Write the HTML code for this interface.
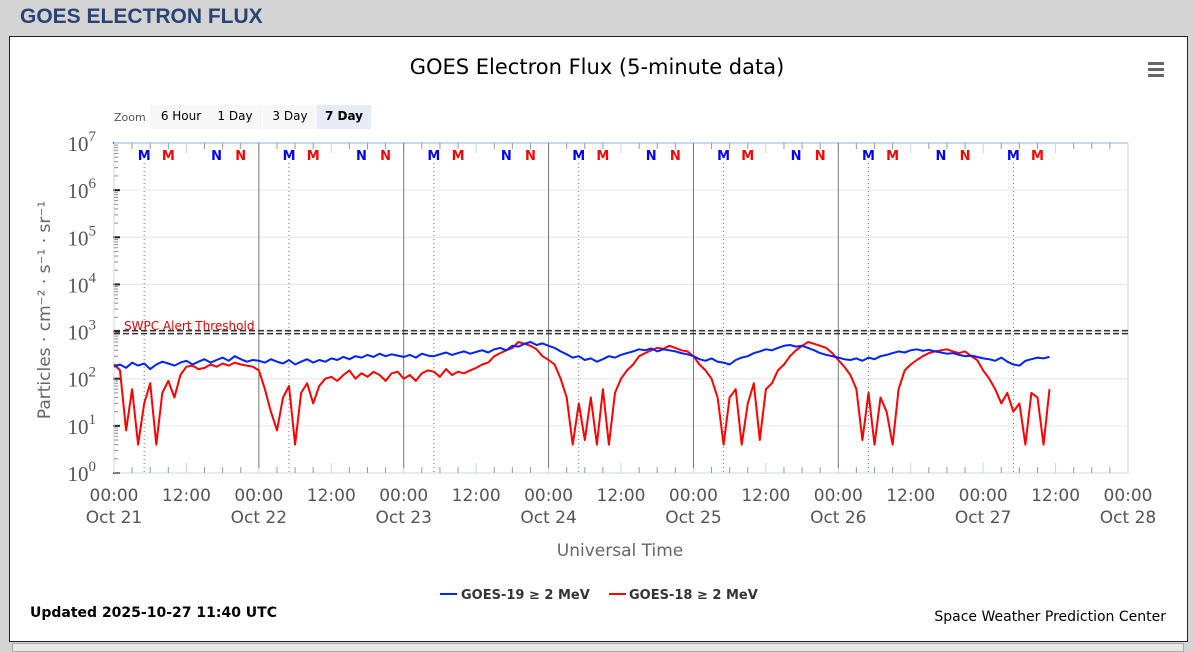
<!DOCTYPE html>
<html><head><meta charset="utf-8">
<style>
body{margin:0;width:1194px;height:650px;background:#d4d4d4;overflow:hidden;font-family:"DejaVu Sans",sans-serif;}
#hdr{position:absolute;left:20px;top:5px;font-size:21px;font-weight:bold;color:#2a4375;font-family:"Liberation Sans",sans-serif;}
#box{position:absolute;left:9px;top:36px;width:1177px;height:604px;background:#fff;border:1px solid #222;}
#strip{position:absolute;left:12px;top:643px;width:1170px;height:7px;background:#e8e8e8;border:1px solid #aaa;}
svg{position:absolute;left:0;top:0;font-family:"DejaVu Sans",sans-serif;}
</style></head><body>
<div id="hdr">GOES ELECTRON FLUX</div>
<div id="box"></div>
<div id="strip"></div>
<svg id="c" width="1194" height="650"></svg>
<script>
const days=["Oct 21","Oct 22","Oct 23","Oct 24","Oct 25","Oct 26","Oct 27","Oct 28"];
const yTicks=[0,1,2,3,4,5,6,7];
const threshold=1000;
const goes19=[180,200,170,220,190,210,160,200,230,210,190,220,240,200,230,260,220,250,280,240,300,260,230,250,
240,220,260,230,210,250,200,230,260,220,250,230,270,250,290,260,300,280,320,290,340,300,330,310,
290,320,280,340,310,300,330,360,320,350,380,340,370,400,360,420,450,400,500,480,550,600,520,560,
500,450,380,330,280,300,250,270,230,260,300,280,320,350,380,420,400,440,380,420,400,380,350,330,
300,260,240,270,230,220,200,250,280,300,350,380,420,400,450,500,520,480,500,450,400,350,320,300,
280,260,250,270,240,280,260,300,320,350,380,360,400,420,390,410,380,360,340,350,320,300,310,290,
270,260,240,280,230,200,190,240,260,280,270,290];
const goes18=[200,150,8,60,4,30,80,4,50,90,40,120,180,190,160,170,200,180,210,190,220,200,190,180,
150,60,20,8,40,70,4,50,80,30,70,100,110,90,120,150,100,130,110,140,120,90,130,140,
100,120,90,130,150,140,110,160,120,140,130,150,170,200,220,300,350,400,450,600,550,500,420,300,
250,200,100,40,4,30,5,40,4,60,4,50,100,150,200,300,350,400,450,430,500,450,400,380,
300,200,150,100,40,4,40,60,4,30,80,5,60,80,150,200,300,400,500,600,550,500,450,350,
250,180,120,60,5,50,4,40,20,4,60,150,200,250,300,350,380,400,420,380,350,380,300,250,
150,100,60,30,50,20,30,4,50,40,4,60];
const markers=[{t:5,c:"#0000ff",s:"M"},{t:9,c:"#ff0000",s:"M"},{t:17,c:"#0000ff",s:"N"},{t:21,c:"#ff0000",s:"N"}];

const L=114,R=1128,T=143,B=473;
const xH=h=>L+h*(R-L)/(7*24);
const yL=v=>B-(Math.log10(v))*(B-T)/7;
const svg=document.getElementById('c');
const NS="http://www.w3.org/2000/svg";
function el(t,a,p){const e=document.createElementNS(NS,t);for(const k in a)e.setAttribute(k,a[k]);(p||svg).appendChild(e);return e;}
function tx(x,y,s,a){const e=el('text',Object.assign({x:x,y:y},a));e.textContent=s;return e;}

let t=tx(597,74,"GOES Electron Flux (5-minute data)",{"text-anchor":"middle","font-size":21,fill:"#000"});

let m=el('g',{});
[62,68,74].forEach(y=>el('rect',{x:1148,y:y,width:16,height:3,fill:"#666"},m));
tx(114,121,"Zoom",{"font-size":11,fill:"#555"});
const zb=[["6 Hour",150,62],["1 Day",208,54],["3 Day",263,54],["7 Day",317,54]];
zb.forEach((b,i)=>{const g=el('g',{});
el('rect',{x:b[1],y:105,width:b[2],height:24,fill:i==3?"#e6ebf5":"#f7f7f7"},g);
const q=tx(b[1]+b[2]/2,120,b[0],{"text-anchor":"middle","font-size":12,fill:"#000","font-weight":i==3?"bold":"normal"});g.appendChild(q);});

yTicks.forEach(k=>{const y=yL(Math.pow(10,k));
if(k>0&&k<7){const g=el('line',{x1:L,x2:R,y1:y,y2:y,stroke:"#e6e6e6"});}
const lb=el('text',{x:96,y:y+8,"text-anchor":"end","font-size":21,fill:"#555","font-family":"Liberation Serif, serif"});

lb.textContent="10";const sp=el('tspan',{dy:-10,"font-size":15},lb);sp.textContent=k;
el('line',{x1:L-1,x2:L+6,y1:y,y2:y,stroke:"#222","stroke-width":2});
if(k<7)for(let j=2;j<10;j++){const yy=yL(j*Math.pow(10,k));el('line',{x1:L,x2:L+4,y1:yy,y2:yy,stroke:"#888"});}
});
el('line',{x1:L,x2:L,y1:T,y2:B,stroke:"#999"});
el('rect',{x:L,y:T,width:R-L,height:B-T,fill:"none",stroke:"#ccd6eb"});
el('line',{x1:L,x2:R,y1:T,y2:T,stroke:"#ccd6eb","stroke-width":2});
let at=tx(0,0,"Particles · cm⁻² · s⁻¹ · sr⁻¹",{transform:"translate(50,310) rotate(-90)","text-anchor":"middle","font-size":17,fill:"#666"});


for(let h=0;h<=168;h+=12){const x=xH(h);
el('line',{x1:x,x2:x,y1:B-10,y2:B,stroke:"#ccd6eb"});el('line',{x1:x,x2:x,y1:T,y2:T+10,stroke:"#ccd6eb"});
const a=tx(x,501,h%24?"12:00":"00:00",{"text-anchor":"middle","font-size":17,fill:"#555"});

if(h%24==0){const d=tx(x,523,days[h/24],{"text-anchor":"middle","font-size":17,fill:"#555"});}}
for(let h=3;h<168;h+=3){if(h%12){const x=xH(h);el('line',{x1:x,x2:x,y1:B-6,y2:B,stroke:"#999"});el('line',{x1:x,x2:x,y1:T,y2:T+6,stroke:"#999"});}}
let xt=tx(620,556,"Universal Time",{"text-anchor":"middle","font-size":17,fill:"#666"});


for(let d=0;d<7;d++){
if(d>0&&d<6){const l=el('line',{x1:xH(d*24),x2:xH(d*24),y1:T,y2:B-5,stroke:"#777"});}
el('line',{x1:xH(d*24+5),x2:xH(d*24+5),y1:T+20,y2:B,stroke:"#777","stroke-dasharray":"1,3"});
markers.forEach(mk=>{if(d==6&&mk.t>12)return;const q=tx(xH(d*24+mk.t),160,mk.s,{"text-anchor":"middle","font-size":13,"font-weight":"bold",fill:mk.c});});}

const ty=yL(threshold);
el('line',{x1:L,x2:R,y1:ty-1,y2:ty-1,stroke:"#333","stroke-dasharray":"6,3","stroke-width":1.5});
el('line',{x1:L,x2:R,y1:ty+2,y2:ty+2,stroke:"#333","stroke-dasharray":"6,3","stroke-width":1.5});
let th=tx(124,330,"SWPC Alert Threshold",{"font-size":12,fill:"#e00"});


function series(arr,col,name){const p=arr.map((v,i)=>(i?"L":"M")+xH(i).toFixed(1)+","+yL(v).toFixed(1)).join("");
const e=el('path',{d:p,fill:"none",stroke:col,"stroke-width":2,"stroke-linejoin":"round"});}
series(goes18,"#ff0000","goes18-line");
series(goes19,"#0022ff","goes19-line");

let lg=el('g',{});
el('line',{x1:440,x2:457,y1:594,y2:594,stroke:"#0022ff","stroke-width":2},lg);
lg.appendChild(tx(461,599,"GOES-19 ≥ 2 MeV",{"font-size":13,fill:"#333","font-weight":"bold"}));
let lg2=el('g',{});
el('line',{x1:609,x2:626,y1:594,y2:594,stroke:"#ff0000","stroke-width":2},lg2);
lg2.appendChild(tx(629,599,"GOES-18 ≥ 2 MeV",{"font-size":13,fill:"#333","font-weight":"bold"}));
let up=tx(30,617,"Updated 2025-10-27 11:40 UTC",{"font-size":14,"font-weight":"bold",fill:"#000"});

let cr=tx(1166,621,"Space Weather Prediction Center",{"text-anchor":"end","font-size":14,fill:"#000"});

</script>
</body></html>
